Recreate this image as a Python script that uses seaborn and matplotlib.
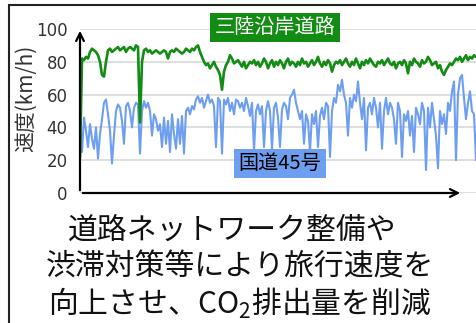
import numpy as np
import pandas as pd
import matplotlib
matplotlib.use("Agg")
import matplotlib.pyplot as plt
import matplotlib.patches as patches
import seaborn as sns

# speed samples along the route (km/h), one sample per step
sanriku = [
    22, 82, 81, 83, 82, 86, 88, 87, 86, 84,
    80, 72, 71, 80, 87, 88, 86, 87, 88, 89,
    87, 88, 89, 86, 88, 89, 88, 87, 90, 89,
    43, 80, 87, 88, 86, 87, 85, 86, 87, 86,
    85, 86, 87, 86, 82, 86, 87, 86, 88, 87,
    86, 85, 86, 88, 87, 86, 88, 87, 89, 90,
    86, 83, 80, 78, 79, 76, 78, 80, 77, 75,
    72, 63, 74, 78, 80, 84, 82, 79, 80, 81,
    79, 77, 80, 76, 78, 80, 79, 81, 78, 80,
    77, 79, 82, 80, 76, 79, 81, 77, 80, 78,
    81, 79, 76, 80, 82, 78, 80, 79, 77, 80,
    78, 82, 79, 80, 77, 79, 81, 78, 80, 83,
    79, 77, 80, 78, 81, 79, 74, 78, 80, 79,
    81, 78, 80, 82, 79, 77, 80, 78, 82, 79,
    76, 80, 78, 81, 79, 82, 80, 78, 77, 80,
    79, 81, 78, 80, 82, 79, 78, 80, 76, 79,
    80, 78, 81, 79, 73, 80, 78, 82, 80, 79,
    77, 81, 79, 80, 83, 81, 78, 79, 80, 76,
    78, 74, 72, 75, 77, 79, 78, 80, 82, 81,
    83, 80, 82, 84, 81, 83, 82, 84, 83,
]
route45 = [
    47, 25, 46, 38, 28, 42, 33, 27, 40, 21,
    36, 45, 55, 57, 48, 38, 18, 35, 50, 54,
    52, 44, 30, 53, 55, 50, 40, 52, 55, 54,
    24, 50, 56, 52, 55, 50, 35, 48, 45, 38,
    42, 28, 46, 30, 44, 25, 48, 36, 27, 45,
    30, 47, 24, 50, 52, 48, 53, 51, 57, 59,
    55, 58, 52, 56, 60, 55, 57, 53, 28, 58,
    56, 24, 57, 54, 58, 50, 55, 48, 57, 56,
    52, 55, 50, 58, 53, 47, 55, 26, 50, 54,
    48, 53, 28, 50, 56, 50, 27, 52, 55, 46,
    28, 51, 55, 53, 45, 58, 60, 63, 55, 50,
    45, 50, 30, 48, 44, 25, 48, 42, 50, 28,
    47, 52, 45, 55, 53, 22, 50, 58, 55, 66,
    62, 69, 60, 55, 35, 58, 52, 60, 56, 68,
    55, 45, 58, 26, 52, 55, 48, 58, 52, 40,
    55, 27, 50, 58, 48, 55, 52, 45, 30, 55,
    50, 22, 48, 44, 50, 35, 47, 25, 52, 48,
    42, 55, 50, 14, 52, 40, 55, 45, 35, 15,
    50, 42, 48, 36, 55, 50, 62, 68, 20, 60,
    70, 72, 58, 45, 55, 62, 50, 48, 20,
]
yticks = [0, 20, 40, 60, 80, 100]
label_green = "三陸沿岸道路"
label_blue = "国道45号"
caption = ["道路ネットワーク整備や", "渋滞対策等により旅行速度を",
           r"向上させ、CO$_\mathregular{2}$排出量を削減"]

sns.set_style("white")
plt.rcParams["font.family"] = ["Noto Sans CJK JP", "DejaVu Sans"]
plt.rcParams["mathtext.fontset"] = "custom"
plt.rcParams["mathtext.rm"] = "Noto Sans CJK JP"

df = pd.DataFrame({"pos": np.arange(len(sanriku)),
                   "sanriku": sanriku, "route45": route45})

W, H = 476, 323
fig = plt.figure(figsize=(W / 100, H / 100), dpi=100)
ax = fig.add_axes([80 / W, 1 - 193 / H, 396 / W, 164 / H])

sns.lineplot(data=df, x="pos", y="route45", color="#6d9ef0", lw=1.5, ax=ax)
sns.lineplot(data=df, x="pos", y="sanriku", color="#138c13", lw=1.9, ax=ax)

ax.set_xlim(0, len(sanriku) - 1)
ax.set_ylim(0, 100)
ax.set_yticks(yticks)
ax.set_xticks([])
ax.yaxis.grid(True, color="#d9d9d9", lw=1.2)
ax.set_axisbelow(True)
ax.tick_params(axis="y", length=0, pad=9, labelsize=12, labelcolor="#333333")
for lab in ax.get_yticklabels():
    lab.set_family("DejaVu Sans")
for s in ax.spines.values():
    s.set_visible(False)
ax.set_xlabel("")
ax.set_ylabel("")

# axis arrows
arrow = dict(arrowstyle="->", color="black", lw=1.6, mutation_scale=14)
ax.annotate("", xy=(0, 1.006), xytext=(0, 0), xycoords="axes fraction",
            arrowprops=arrow, annotation_clip=False)
ax.annotate("", xy=(383 / 396, 0), xytext=(0, 0), xycoords="axes fraction",
            arrowprops=arrow, annotation_clip=False)

fig.text(26 / W, 1 - 98 / H, "速度(km/h)", rotation=90, ha="center", va="center",
         fontsize=15, color="#333333")

fig.text(275 / W, 1 - 27.5 / H, label_green, ha="center", va="center", fontsize=14.5,
         color="white", zorder=10,
         bbox=dict(boxstyle="square,pad=0.22", fc="#138c13", ec="none"))
fig.text(280 / W, 1 - 163.5 / H, label_blue, ha="center", va="center", fontsize=14.5,
         color="black", zorder=10,
         bbox=dict(boxstyle="square,pad=0.22", fc="#6d9ef0", ec="none"))

for (cx, cy), line in zip([(232, 230), (240, 267), (240, 303)], caption):
    fig.text(cx / W, 1 - cy / H, line, ha="center", va="center", fontsize=21.5,
             color="#111111")

fig.patches.append(patches.Rectangle((9 / W, -0.1), 1.2, 1 - 5 / H + 0.1,
                                     transform=fig.transFigure, fill=False,
                                     lw=1.5, ec="#222222"))

fig.savefig("out.png", dpi=100)
